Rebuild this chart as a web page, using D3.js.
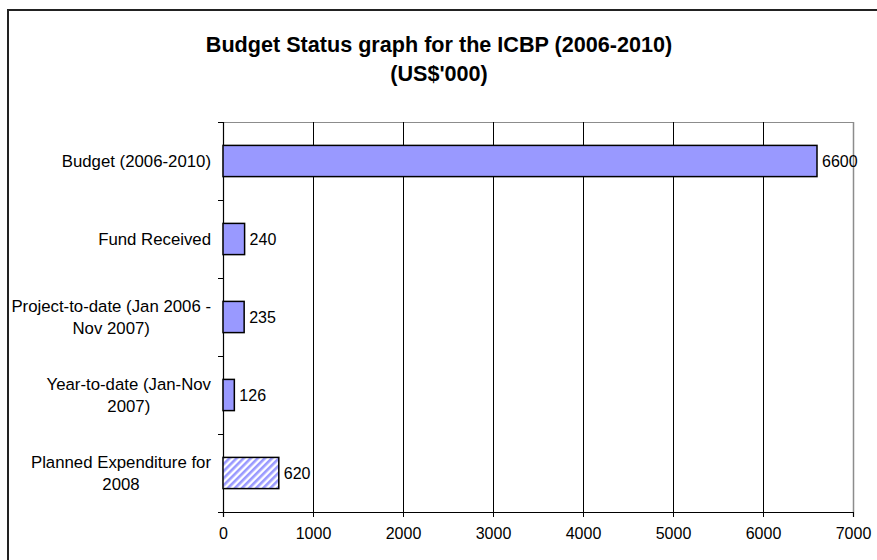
<!DOCTYPE html>
<html>
<head>
<meta charset="utf-8">
<script src="https://cdn.jsdelivr.net/npm/d3@7"></script>
<style>
  html, body { margin: 0; padding: 0; background: #fff; }
  svg { display: block; font-family: "Liberation Sans", Arial, sans-serif; }
</style>
</head>
<body>
<svg id="chart" width="877" height="560"></svg>
<script>
// ---- data ----
const categories = [
  "Budget (2006-2010)",
  "Fund Received",
  "Project-to-date (Jan 2006 -\nNov 2007)",
  "Year-to-date (Jan-Nov\n2007)",
  "Planned Expenditure for\n2008"
];
const values = [6600, 240, 235, 126, 620];
const planned = [false, false, false, false, true];
const xTicks = [0, 1000, 2000, 3000, 4000, 5000, 6000, 7000];
const titleLines = ["Budget Status graph for the ICBP (2006-2010)", "(US$'000)"];

// ---- layout ----
const svg = d3.select("#chart");
const plot = { left: 223, right: 853, top: 122, bottom: 512 };

const x = d3.scaleLinear().domain([0, 7000]).range([plot.left, plot.right]);
const y = d3.scaleBand().domain(categories).range([plot.top, plot.bottom])
  .paddingInner(0.6).paddingOuter(0.3);
const yEdges = d3.scaleLinear().domain([0, categories.length]).range([plot.top, plot.bottom]);

// hatch pattern
const defs = svg.append("defs");
const pat = defs.append("pattern").attr("id", "hatch")
  .attr("patternUnits", "userSpaceOnUse").attr("width", 5).attr("height", 5)
  .attr("patternTransform", "rotate(45)");
pat.append("rect").attr("width", 5).attr("height", 5).attr("fill", "#ffffff");
pat.append("rect").attr("width", 2.6).attr("height", 5).attr("fill", "#9999ff");

// outer border
svg.append("rect").attr("x", 8).attr("y", 10).attr("width", 920).attr("height", 620)
  .attr("fill", "none").attr("stroke", "#222").attr("stroke-width", 2);

// title
const title = svg.append("text").attr("text-anchor", "middle")
  .attr("font-weight", "bold").attr("font-size", 21.6).attr("fill", "#000");
titleLines.forEach((t, i) => {
  title.append("tspan").attr("x", 439).attr("y", 52 + i * 29).text(t);
});

// plot border (top, gray)
svg.append("line").attr("x1", plot.left).attr("x2", plot.right)
  .attr("y1", plot.top + 0.5).attr("y2", plot.top + 0.5)
  .attr("stroke", "#8c8c8c").attr("stroke-width", 1);

// gridlines
svg.append("g").selectAll("line").data(xTicks.filter(d => d > 0 && d < 7000)).join("line")
  .attr("x1", d => Math.round(x(d)) + 0.5).attr("x2", d => Math.round(x(d)) + 0.5)
  .attr("y1", plot.top).attr("y2", plot.bottom)
  .attr("stroke", "#000").attr("stroke-width", 1);
svg.append("line").attr("x1", plot.right + 0.5).attr("x2", plot.right + 0.5)
  .attr("y1", plot.top).attr("y2", plot.bottom)
  .attr("stroke", "#8c8c8c").attr("stroke-width", 1.5);

// x axis
const xAxis = d3.axisBottom(x).tickValues(xTicks).tickSize(5).tickPadding(11).tickFormat(d3.format("d"));
const gx = svg.append("g").attr("transform", `translate(0,${plot.bottom})`).call(xAxis);
gx.select(".domain").attr("stroke", "#000").attr("stroke-width", 1.2);
gx.selectAll(".tick line").attr("stroke", "#000");
gx.selectAll(".tick text").attr("font-size", 16).attr("font-family", "Liberation Sans, Arial, sans-serif").attr("fill", "#000");

// y axis line + ticks at category edges
svg.append("line").attr("x1", plot.left + 0.5).attr("x2", plot.left + 0.5)
  .attr("y1", plot.top).attr("y2", plot.bottom).attr("stroke", "#000").attr("stroke-width", 1.2);
svg.append("g").selectAll("line").data(d3.range(categories.length + 1)).join("line")
  .attr("x1", plot.left - 5).attr("x2", plot.left)
  .attr("y1", d => Math.round(yEdges(d)) + 0.5).attr("y2", d => Math.round(yEdges(d)) + 0.5)
  .attr("stroke", "#000");

// bars
svg.append("g").selectAll("rect").data(categories).join("rect")
  .attr("x", x(0))
  .attr("y", d => y(d))
  .attr("width", (d, i) => x(values[i]) - x(0))
  .attr("height", y.bandwidth())
  .attr("fill", (d, i) => planned[i] ? "url(#hatch)" : "#9999ff")
  .attr("stroke", "#000").attr("stroke-width", 1.5);

// value labels
svg.append("g").selectAll("text").data(categories).join("text")
  .attr("x", (d, i) => x(values[i]) + 5)
  .attr("y", d => y(d) + y.bandwidth() / 2)
  .attr("dy", "0.36em")
  .attr("font-size", 16).attr("fill", "#000")
  .text((d, i) => values[i]);

// category labels (wrapped, centered block, right-aligned to axis)
const labelRight = 211;
const lineH = 22;
categories.forEach(c => {
  const lines = c.split("\n");
  const g = svg.append("g");
  const texts = lines.map(l => g.append("text").attr("font-size", 16.8).attr("fill", "#000").text(l));
  const widths = texts.map(t => t.node().getComputedTextLength());
  const maxW = d3.max(widths);
  const cx = labelRight - maxW / 2;
  const cy = y(c) + y.bandwidth() / 2;
  texts.forEach((t, i) => {
    t.attr("text-anchor", "middle").attr("x", cx)
      .attr("y", cy + (i - (lines.length - 1) / 2) * lineH)
      .attr("dy", "0.36em");
  });
});
</script>
</body>
</html>
